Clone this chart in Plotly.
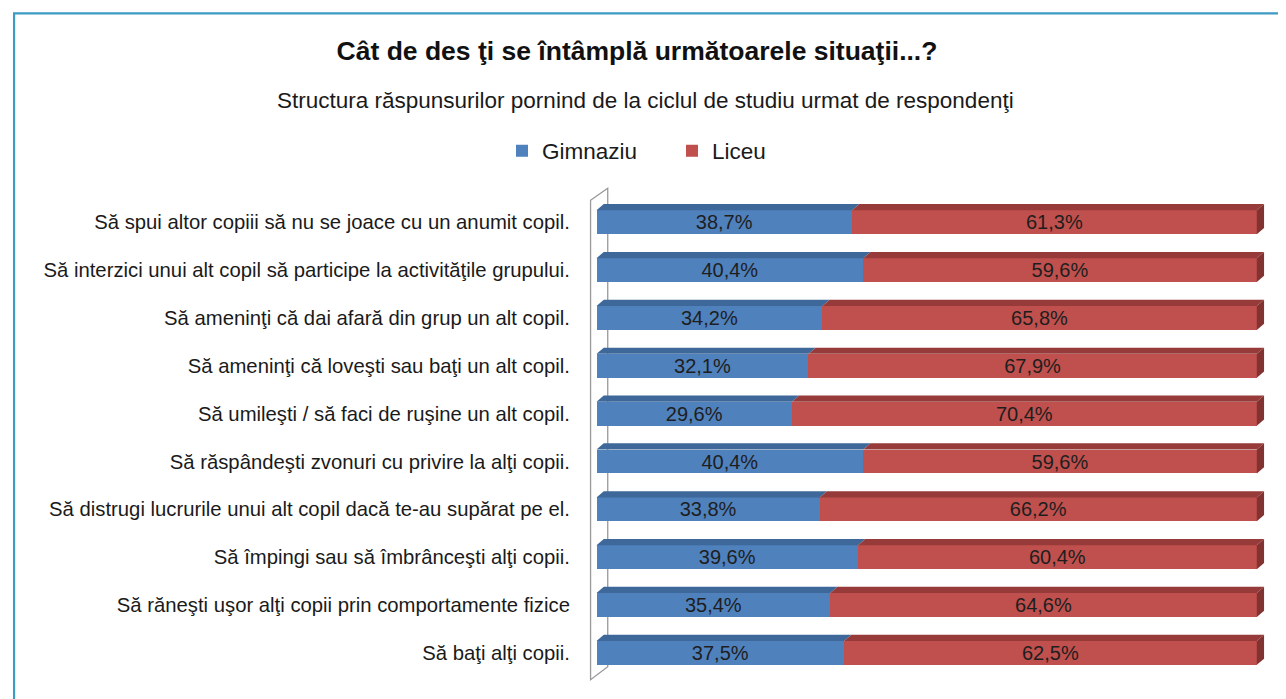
import plotly.graph_objects as go

title_text = "Cât de des ţi se întâmplă următoarele situaţii...?"
subtitle_text = "Structura răspunsurilor pornind de la ciclul de studiu urmat de respondenţi"
series_names = ["Gimnaziu", "Liceu"]
categories = [
    "Să spui altor copiii să nu se joace cu un anumit copil.",
    "Să interzici unui alt copil să participe la activităţile grupului.",
    "Să ameninţi că dai afară din grup un alt copil.",
    "Să ameninţi că loveşti sau baţi un alt copil.",
    "Să umileşti / să faci de ruşine un alt copil.",
    "Să răspândeşti zvonuri cu privire la alţi copii.",
    "Să distrugi lucrurile unui alt copil dacă te-au supărat pe el.",
    "Să împingi sau să îmbrânceşti alţi copii.",
    "Să răneşti uşor alţi copii prin comportamente fizice",
    "Să baţi alţi copii.",
]
gimnaziu = [38.7, 40.4, 34.2, 32.1, 29.6, 40.4, 33.8, 39.6, 35.4, 37.5]
liceu = [61.3, 59.6, 65.8, 67.9, 70.4, 59.6, 66.2, 60.4, 64.6, 62.5]

FONT = "Liberation Sans, Arial, Helvetica, sans-serif"
BLUE, BLUE_TOP = "#4F81BD", "#3D6899"
RED, RED_TOP, RED_SIDE = "#C0504D", "#963B39", "#823230"

pos = list(range(len(categories)))
n = len(categories)
bar_w = 0.5
dx, dy = 1.1, 0.13  # 3D depth in axis units

W, H = 1286, 699
OFF = 8  # page body margin
L, R, T, B = 571.5, 23.8, 175.7, 22.9
pw, ph = W - L - R, H - T - B


def px_to_paper_x(px):
    return (px - OFF - L) / pw


def px_to_paper_y(py):
    return (H - B - (py - OFF)) / ph


def fmt(v):
    return f"{v:.1f}%".replace(".", ",")


fig = go.Figure()
for name, vals, col in [(series_names[0], gimnaziu, BLUE), (series_names[1], liceu, RED)]:
    fig.add_trace(go.Bar(
        name=name, y=pos, x=vals, orientation="h", width=bar_w,
        marker=dict(color=col, line=dict(width=0)),
        text=[fmt(v) for v in vals], textposition="inside", insidetextanchor="middle",
        constraintext="none",
        textfont=dict(family=FONT, size=20, color="#1e1e1e"), hoverinfo="skip",
    ))

shapes = []
# left wall (depth axis frame)
wy0, wy1 = -0.46, n - 1 + 0.56
wx0, wx1 = -0.9, -0.9 + 2.6
shapes.append(dict(
    type="path", xref="x", yref="y", layer="below",
    path=f"M {wx0},{wy0} L {wx1},{wy0 - 0.25} L {wx1},{wy1 - 0.27} L {wx0},{wy1} Z",
    line=dict(color="#9a9a9a", width=1.3), fillcolor="rgba(0,0,0,0)",
))
for i, (g, l) in enumerate(zip(gimnaziu, liceu)):
    yt = pos[i] - bar_w / 2
    yb = pos[i] + bar_w / 2
    tot = g + l
    for a, b, col in [(0, g, BLUE_TOP), (g, tot, RED_TOP)]:
        shapes.append(dict(
            type="path", xref="x", yref="y", layer="above",
            path=f"M {a},{yt} L {b},{yt} L {b + dx},{yt - dy} L {a + dx},{yt - dy} Z",
            fillcolor=col, line=dict(width=0),
        ))
    shapes.append(dict(
        type="path", xref="x", yref="y", layer="above",
        path=f"M {tot},{yt} L {tot + dx},{yt - dy} L {tot + dx},{yb - dy} L {tot},{yb} Z",
        fillcolor=RED_SIDE, line=dict(width=0),
    ))

# chart border
shapes.append(dict(
    type="rect", xref="paper", yref="paper", layer="below",
    x0=px_to_paper_x(13), x1=px_to_paper_x(1310),
    y0=px_to_paper_y(725), y1=px_to_paper_y(13),
    line=dict(color="#3C9AC4", width=2.2), fillcolor="rgba(0,0,0,0)",
))

fig.update_layout(
    width=W, height=H,
    margin=dict(l=L, r=R, t=T, b=B, autoexpand=False),
    barmode="stack",
    paper_bgcolor="white", plot_bgcolor="white",
    font=dict(family=FONT, color="#1a1a1a"),
    title=dict(
        text=f"<b>{title_text}</b>", xref="container", yref="container",
        x=(637 - OFF) / W, y=1 - (51 - OFF) / H, xanchor="center", yanchor="middle",
        font=dict(family=FONT, size=26.5, color="#111111"),
    ),
    annotations=[dict(
        text=subtitle_text, xref="paper", yref="paper",
        x=px_to_paper_x(645), y=px_to_paper_y(100),
        xanchor="center", yanchor="middle", showarrow=False,
        font=dict(family=FONT, size=22.5, color="#1a1a1a"),
    )],
    legend=dict(
        orientation="h", xref="container", yref="container",
        x=(524 - OFF - 22) / W, y=1 - (151 - OFF) / H, xanchor="left", yanchor="middle",
        font=dict(family=FONT, size=22.5, color="#1a1a1a"),
        itemwidth=30, entrywidth=125, traceorder="normal",
    ),
    xaxis=dict(range=[-2.5, 102], visible=False, fixedrange=True),
    yaxis=dict(
        range=[n - 1 + 0.65, -0.8], tickvals=pos, ticktext=categories,
        showgrid=False, zeroline=False, showline=False,
        ticks="outside", ticklen=5, tickcolor="rgba(0,0,0,0)",
        tickfont=dict(family=FONT, size=20.3, color="#1a1a1a"),
    ),
    shapes=shapes,
    showlegend=True,
)

fig.write_html("out.html")
